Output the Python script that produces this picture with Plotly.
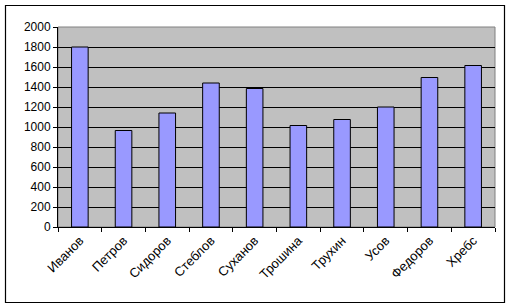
import plotly.graph_objects as go

categories = ["Иванов", "Петров", "Сидоров", "Стеблов", "Суханов",
              "Трошина", "Трухин", "Усов", "Федоров", "Хребс"]
values = [1800, 965, 1140, 1440, 1385, 1015, 1075, 1200, 1495, 1615]
y_ticks = [0, 200, 400, 600, 800, 1000, 1200, 1400, 1600, 1800, 2000]

W, H = 511, 308
L, R, T, B = 58, 16, 27, 81
pw, ph = W - L - R, H - T - B

fig = go.Figure(go.Bar(
    x=categories, y=values,
    marker=dict(color="#9999FF", line=dict(color="black", width=1)),
))

def px_x(p):
    return (p - L) / pw

def px_y(p):
    return (H - B - p) / ph

fig.update_layout(
    width=W, height=H,
    margin=dict(l=L, r=R, t=T, b=B, pad=0),
    paper_bgcolor="white", plot_bgcolor="#C0C0C0",
    bargap=0.62, showlegend=False,
    font=dict(family="Liberation Sans, Arial", size=12, color="black"),
    shapes=[
        dict(type="rect", xref="paper", yref="paper",
             x0=px_x(5.5), x1=px_x(504.5), y0=px_y(302.5), y1=px_y(5.5),
             line=dict(color="black", width=1.2), layer="below"),
        dict(type="rect", xref="paper", yref="paper",
             x0=0, x1=1, y0=0, y1=1,
             line=dict(color="#808080", width=1), layer="below"),
    ],
)
fig.update_xaxes(
    type="category", tickangle=-45, tickson="boundaries",
    ticks="outside", ticklen=4, tickcolor="black",
    showline=True, linecolor="black", linewidth=1,
    showgrid=False, tickfont=dict(size=13),
)
fig.update_yaxes(
    range=[0, 2000], tickvals=y_ticks,
    ticks="outside", ticklen=4, tickcolor="black",
    showline=True, linecolor="black", linewidth=1,
    showgrid=True, gridcolor="black", gridwidth=1,
    zeroline=False, tickfont=dict(size=12),
)

fig.write_html("out.html")
